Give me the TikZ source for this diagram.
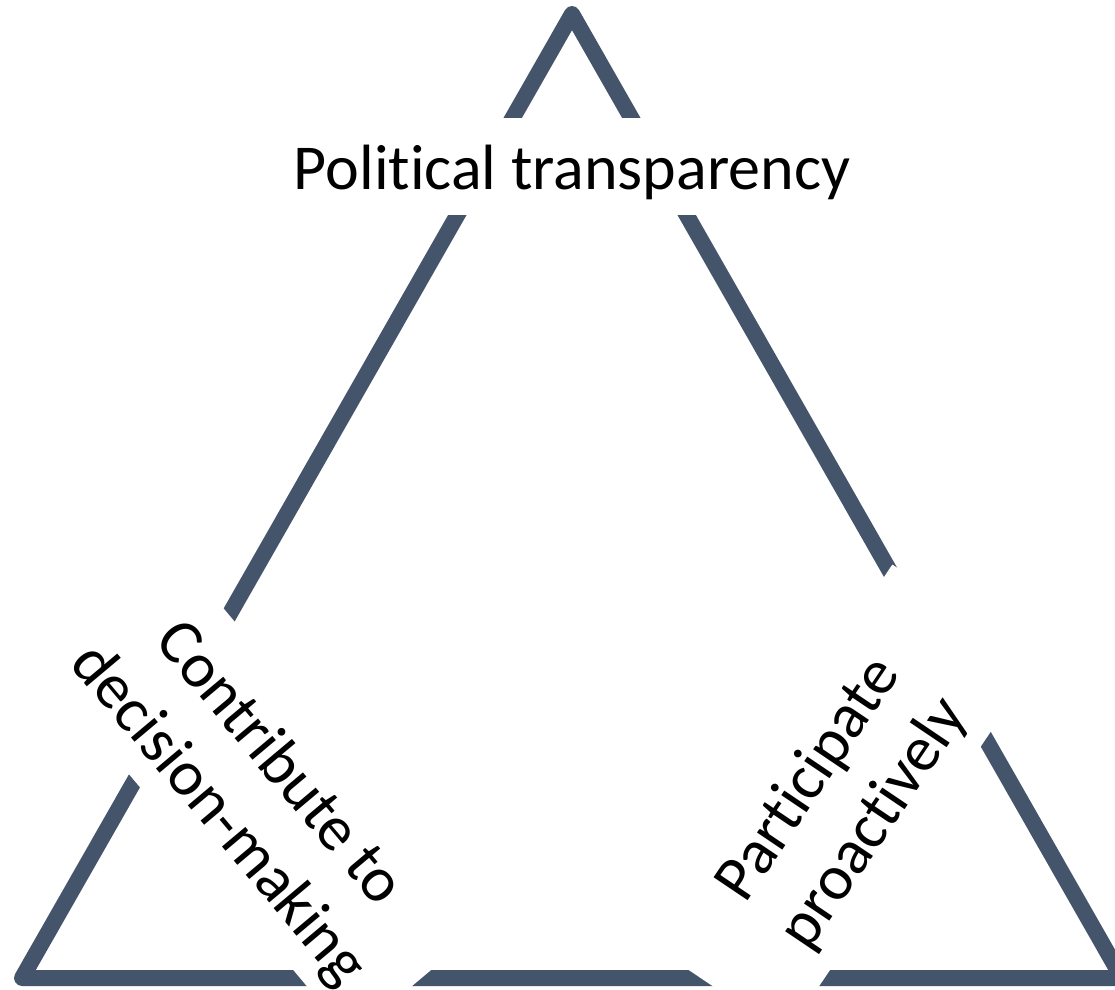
\documentclass[tikz,border=0pt]{standalone}
\usepackage{fontspec}
\setmainfont{Carlito}[Ligatures={NoCommon,NoContextual}]
\definecolor{slate}{HTML}{44546A}
\begin{document}
\begin{tikzpicture}[x=1pt,y=1pt,
  edge/.style={draw=slate,line width=16pt,line join=round},
  gap/.style={fill=white,draw=none,inner sep=0pt,outer sep=0pt},
  lbl/.style={inner sep=0pt,outer sep=0pt,align=center,font=\fontsize{64}{79}\selectfont}]
\useasboundingbox (0,0) rectangle (1115,-989);
\clip (0,0) rectangle (1115,-989);
\fill[white] (0,0) rectangle (1115,-989);
% triangle corners
\coordinate (apex) at (572,-14);
\coordinate (bl) at (22,-978);
\coordinate (br) at (1122,-978);
\draw[edge] (apex) -- (br) -- (bl) -- cycle;
% white gaps behind the labels
\node[gap,minimum width=700pt,minimum height=97pt] (topbox) at (572,-166.5) {};
\node[gap,minimum width=518pt,minimum height=179pt,rotate=-50] (leftbox) at (252.3,-781.9) {};
\node[gap,minimum width=450pt,minimum height=175pt,rotate=56] (rightbox) at (839.1,-800) {};
% labels
\node[lbl,anchor=base] (toplabel) at (572,-189) {Political transparency};
\node[lbl,rotate=-50] (leftlabel) at (248,-790) {Contribute to\\decision-making};
\node[lbl,rotate=56] (rightlabel) at (842,-802) {Participate\\proactively};
\end{tikzpicture}
\end{document}
